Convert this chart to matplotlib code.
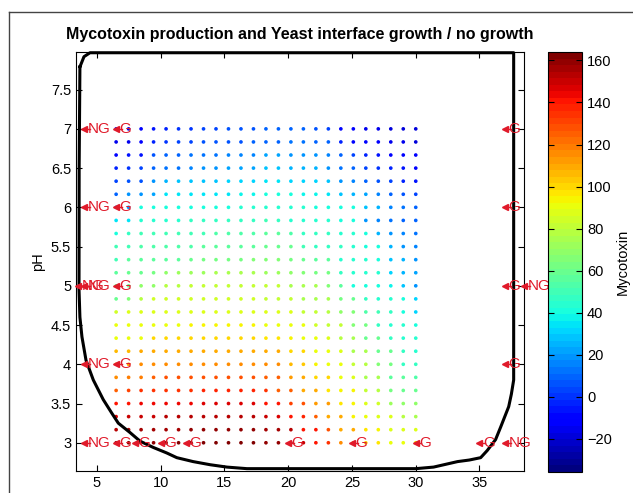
import numpy as np
import matplotlib
matplotlib.use("Agg")
import matplotlib.pyplot as plt
from matplotlib.lines import Line2D

plt.rcParams['font.family'] = ['Liberation Sans', 'DejaVu Sans']

# grid of the response surface (temperature x pH)
temp = np.linspace(6.5, 30, 25)
ph = np.linspace(7, 3, 25)

# mycotoxin, rows from pH 7 down to pH 3
myco = np.array([
    [-15, -15, -12, -5, -3, 0, 0, 2, 3, 5, 5, 5, 8, 8, 8, 8, 5, 3, -10, -12, -15, -15, -18, -18, -20],
    [-15, -14, -12, -2, 0, 2, 3, 5, 5, 6, 7, 8, 10, 10, 12, 12, 10, 8, -2, -8, -10, -12, -15, -15, -18],
    [-8, -6, -5, 5, 8, 10, 12, 12, 14, 15, 16, 17, 22, 22, 20, 20, 18, 15, 8, 2, -2, -5, -8, -10, -12],
    [-2, 0, 2, 10, 12, 14, 15, 20, 20, 22, 22, 22, 27, 27, 26, 25, 24, 20, 12, 8, 3, 0, -3, -5, -8],
    [3, 5, 6, 18, 26, 27, 28, 28, 28, 30, 30, 30, 33, 33, 32, 32, 30, 28, 20, 15, 10, 5, 2, -2, -5],
    [8, 18, 20, 22, 34, 35, 35, 35, 36, 36, 37, 37, 40, 40, 40, 38, 37, 35, 28, 25, 22, 15, 10, 5, 2],
    [15, 20, 40, 40, 40, 41, 41, 42, 42, 42, 43, 43, 43, 43, 43, 43, 42, 42, 40, 40, 28, 25, 15, 12, 8],
    [35, 35, 44, 45, 45, 45, 46, 46, 46, 47, 47, 47, 50, 48, 45, 45, 44, 44, 42, 42, 20, 15, 12, 10, 8],
    [40, 48, 50, 50, 50, 50, 51, 51, 52, 52, 52, 52, 55, 55, 54, 48, 47, 46, 45, 44, 40, 25, 18, 15, 12],
    [50, 51, 52, 52, 53, 53, 54, 55, 55, 55, 56, 56, 60, 60, 58, 50, 48, 47, 46, 45, 42, 40, 25, 20, 16],
    [50, 55, 55, 56, 56, 57, 60, 62, 63, 63, 64, 65, 65, 65, 64, 58, 56, 55, 45, 44, 43, 42, 28, 24, 20],
    [55, 60, 60, 62, 70, 72, 72, 73, 74, 74, 75, 75, 72, 72, 70, 65, 63, 62, 46, 45, 44, 43, 30, 26, 22],
    [58, 60, 68, 70, 78, 79, 80, 80, 80, 80, 80, 80, 80, 80, 76, 75, 74, 65, 55, 42, 41, 40, 38, 28, 20],
    [60, 65, 78, 85, 85, 85, 85, 85, 85, 85, 85, 85, 82, 82, 82, 76, 75, 74, 62, 60, 46, 45, 44, 40, 30],
    [85, 86, 87, 88, 88, 88, 88, 89, 89, 89, 89, 89, 88, 88, 87, 80, 80, 78, 68, 66, 52, 50, 48, 42, 32],
    [90, 90, 90, 90, 90, 90, 95, 95, 95, 95, 95, 95, 90, 90, 90, 90, 83, 82, 80, 65, 63, 46, 45, 44, 40],
    [90, 90, 92, 100, 100, 100, 100, 100, 100, 100, 100, 100, 96, 96, 95, 90, 90, 88, 78, 76, 60, 58, 46, 45, 44],
    [105, 106, 108, 110, 110, 110, 110, 110, 110, 110, 110, 110, 110, 108, 100, 100, 90, 90, 88, 75, 74, 60, 58, 46, 45],
    [110, 114, 115, 115, 115, 115, 116, 116, 116, 116, 117, 117, 115, 115, 105, 104, 93, 92, 90, 80, 78, 65, 63, 48, 47],
    [115, 118, 120, 126, 127, 127, 128, 128, 128, 128, 128, 128, 125, 124, 112, 110, 100, 99, 90, 88, 76, 74, 56, 55, 54],
    [125, 132, 133, 134, 135, 135, 135, 136, 136, 136, 136, 136, 135, 126, 124, 110, 109, 96, 95, 94, 80, 78, 62, 60, 58],
    [140, 142, 143, 144, 145, 145, 145, 146, 146, 146, 146, 146, 142, 140, 130, 128, 114, 112, 96, 95, 86, 84, 72, 70, 68],
    [148, 150, 150, 151, 152, 152, 152, 152, 152, 152, 152, 152, 150, 148, 140, 138, 125, 110, 108, 93, 91, 88, 87, 78, 76],
    [153, 155, 156, 157, 157, 157, 158, 158, 158, 158, 158, 158, 156, 155, 154, 142, 140, 128, 110, 108, 96, 94, 88, 87, 86],
    [158, 160, 160, 160, 161, 161, 161, 161, 161, 161, 161, 161, 159, 158, 157, 150, 140, 135, 116, 114, 100, 98, 92, 91, 95],
])

# yeast observations: growth (G) / no growth (NG)
obs_x = [4, 6.5, 37, 4, 6.5, 37, 3.5, 4, 6.5, 37, 38.5, 4, 6.5, 37,
         4, 6.5, 8, 10, 12, 20, 25, 30, 35, 37]
obs_y = [7, 7, 7, 6, 6, 6, 5, 5, 5, 5, 5, 4, 4, 4,
         3, 3, 3, 3, 3, 3, 3, 3, 3, 3]
obs_lab = ['NG', 'G', 'G', 'NG', 'G', 'G', 'NG', 'NG', 'G', 'G', 'NG', 'NG', 'G', 'G',
           'NG', 'G', 'G', 'G', 'G', 'G', 'G', 'G', 'G', 'NG']

# growth / no growth interface
bound_x = [3.66, 3.98, 4.45, 10, 20, 30, 37.68, 37.68, 37.5, 37.29, 36.66, 36.26, 35.6, 35.09,
           34.2, 33.28, 31.4, 30, 20, 16.76, 15.19, 13.88, 12.54, 11.26, 10.47, 9.42, 8.38,
           7.59, 6.67, 6.15, 5.49, 4.71, 4.14, 3.82, 3.66, 3.59, 3.6, 3.66]
bound_y = [7.79, 7.92, 7.97, 7.97, 7.97, 7.97, 7.97, 3.8, 3.62, 3.46, 3.2, 3.04, 2.9, 2.81,
           2.78, 2.76, 2.69, 2.67, 2.67, 2.67, 2.69, 2.72, 2.76, 2.81, 2.87, 2.94, 3.02,
           3.13, 3.25, 3.38, 3.55, 3.80, 4.05, 4.35, 4.6, 4.95, 6.5, 7.79]

fig = plt.figure(figsize=(6.33, 4.93), dpi=100)
ax = fig.add_axes([0.120, 0.0446, 0.708, 0.850])
cax = fig.add_axes([0.866, 0.0426, 0.0537, 0.852])

# outer frame of the window
fig.add_artist(Line2D([0.0142, 0.0142], [0, 0.9757], transform=fig.transFigure, color='#444444', lw=1))
fig.add_artist(Line2D([0.0142, 1], [0.9757, 0.9757], transform=fig.transFigure, color='#444444', lw=1))

cmap = plt.get_cmap('jet', 64)
TT, PP = np.meshgrid(temp, ph)
sc = ax.scatter(TT.ravel(), PP.ravel(), c=myco.ravel(), cmap=cmap, vmin=-35.7, vmax=164,
                s=7, marker='o', linewidths=0)

ax.plot(bound_x, bound_y, color='black', lw=2.2, clip_on=False, zorder=3)

red = '#e01a2a'
ax.plot(obs_x, obs_y, linestyle='none', marker='<', ms=4.5, color=red, zorder=4, clip_on=False)
for x, y, lab in zip(obs_x, obs_y, obs_lab):
    ax.plot([x, x + 0.45], [y, y], color=red, lw=1, zorder=4, clip_on=False)
    ax.annotate(lab, (x, y), xytext=(2.5, 0), textcoords='offset points', color=red,
                fontsize=11, ha='left', va='center', zorder=4, annotation_clip=False)

ax.set_xlim(3.35, 38.5)
ax.set_ylim(2.64, 7.98)
ax.set_xticks([5, 10, 15, 20, 25, 30, 35])
ax.set_yticks([3, 3.5, 4, 4.5, 5, 5.5, 6, 6.5, 7, 7.5])
ax.set_yticklabels(['3', '3.5', '4', '4.5', '5', '5.5', '6', '6.5', '7', '7.5'])
ax.tick_params(direction='in', top=True, right=True, labelsize=10.5, length=4)
ax.set_ylabel('pH', fontsize=10.5)
ax.set_title('Mycotoxin production and Yeast interface growth / no growth',
             fontsize=11.5, fontweight='bold', pad=9)

cb = fig.colorbar(sc, cax=cax)
cb.set_ticks([-20, 0, 20, 40, 60, 80, 100, 120, 140, 160])
cb.ax.tick_params(direction='in', left=True, right=True, labelsize=10.5, length=4)
cb.set_label('Mycotoxin', fontsize=10.5, labelpad=3)
cb.outline.set_linewidth(0.8)

fig.savefig('out.png', dpi=100)
